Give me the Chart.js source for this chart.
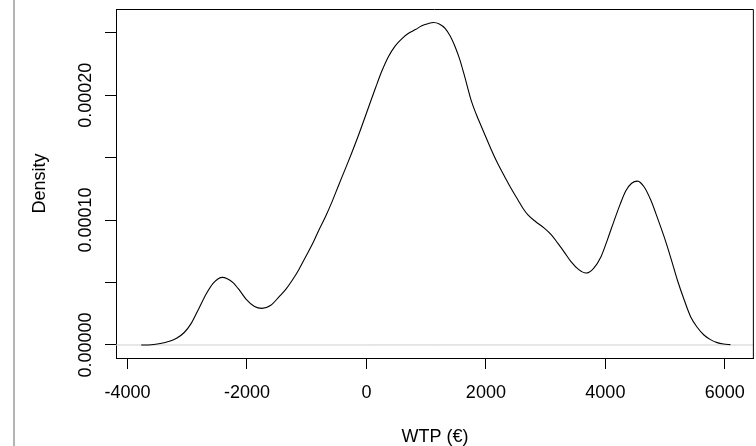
<!DOCTYPE html>
<html><head><meta charset="utf-8">
<script src="https://cdn.jsdelivr.net/npm/chart.js@4.4.1/dist/chart.umd.min.js"></script>
<style>
html,body{margin:0;padding:0;background:#fff;overflow:hidden;}
#wrap{position:relative;width:756px;height:446px;overflow:hidden;background:#fff;}
#cv{position:absolute;left:0;top:0;}
#edge{position:absolute;left:13px;top:0;width:2px;height:446px;background:#b4b4b4;}
</style></head><body>
<div id="wrap"><canvas id="cv" width="760" height="446" style="width:760px;height:446px"></canvas><div id="edge"></div></div>
<script>
// WTP (€) grid and estimated kernel density values
const wtp = [-3770,-3600,-3450,-3300,-3178,-3050,-2930,-2800,-2680,-2567,-2480,-2412,-2330,-2233,-2120,-2012,-1880,-1750,-1600,-1461,-1350,-1239,-1130,-1016,-900,-795,-680,-573,-460,-350,-240,-128,-30,67,150,260,370,483,600,705,820,927,1030,1122,1220,1317,1400,1483,1566,1650,1759,1840,1926,2092,2200,2315,2425,2537,2620,2704,2840,2982,3100,3203,3315,3425,3550,3675,3800,3927,4040,4150,4250,4343,4440,4538,4650,4760,4870,4983,5100,5205,5320,5427,5540,5650,5760,5872,5980,6093];
const density = [0,0.0000002,0.0000012,0.0000030,0.0000054,0.0000100,0.0000175,0.0000297,0.0000410,0.0000493,0.0000530,0.0000541,0.0000530,0.0000499,0.0000435,0.0000365,0.0000310,0.0000293,0.0000318,0.0000387,0.0000445,0.0000520,0.0000605,0.0000707,0.0000812,0.0000921,0.0001033,0.0001150,0.0001285,0.0001414,0.0001545,0.0001685,0.0001815,0.0001945,0.0002055,0.0002195,0.0002310,0.0002395,0.0002455,0.0002495,0.0002525,0.0002555,0.0002572,0.0002582,0.0002570,0.0002535,0.0002475,0.0002390,0.0002281,0.0002140,0.0001950,0.0001845,0.0001747,0.0001561,0.0001450,0.0001347,0.0001250,0.0001161,0.0001095,0.0001041,0.0000985,0.0000934,0.0000880,0.0000815,0.0000742,0.0000667,0.0000605,0.0000576,0.0000612,0.0000707,0.0000850,0.0001000,0.0001130,0.0001235,0.0001295,0.0001312,0.0001265,0.0001160,0.0001020,0.0000867,0.0000690,0.0000520,0.0000360,0.0000227,0.0000140,0.0000080,0.0000043,0.0000019,0.0000008,0.0000003];
const xTicks = [-4000,-2000,0,2000,4000,6000];
const yTicks = [0,0.00005,0.0001,0.00015,0.0002,0.00025];
const yTickLabels = ['0.00000','','0.00010','','0.00020',''];
const xTitle = 'WTP (€)';
const yTitle = 'Density';

const X_MIN = -4192, X_MAX = 6486;
const Y_MIN = -0.00001041, Y_MAX = 0.00026897;
const FONT = {family:"'Liberation Sans', Arial, sans-serif", size:18, lineHeight:1};

const boxPlugin = {
  id:'box',
  afterDraw(chart){
    const {ctx, chartArea:a} = chart;
    ctx.save();
    ctx.strokeStyle = '#000';
    ctx.lineWidth = 1;
    ctx.beginPath();
    ctx.moveTo(a.left, a.top + 0.5);
    ctx.lineTo(a.right - 0.5, a.top + 0.5);
    ctx.lineTo(a.right - 0.5, a.bottom);
    ctx.stroke();
    ctx.restore();
  }
};

new Chart(document.getElementById('cv'), {
  type:'line',
  data:{datasets:[
    {data: wtp.map((x,i)=>({x, y: density[i]})), borderColor:'#000', borderWidth:1.1, pointRadius:0, cubicInterpolationMode:'monotone', fill:false},
    {data: [{x:X_MIN,y:0},{x:X_MAX,y:0}], borderColor:'#cfcfcf', borderWidth:1, pointRadius:0, fill:false}
  ]},
  options:{
    responsive:false, animation:false, devicePixelRatio:1,
    layout:{padding:{left:0, top:9, right:3, bottom:0}},
    plugins:{legend:{display:false}, tooltip:{enabled:false}},
    scales:{
      x:{
        type:'linear', min:X_MIN, max:X_MAX,
        afterBuildTicks: s => { s.ticks = xTicks.map(v=>({value:v})); },
        afterFit: s => { s.height = 88; },
        grid:{drawOnChartArea:false, drawTicks:true, tickLength:11, color:'#000', lineWidth:1},
        border:{display:true, color:'#000', width:1},
        ticks:{padding:15, font:FONT, color:'#000', minRotation:0, maxRotation:0, autoSkip:false, callback:(v)=>String(v)},
        title:{display:true, text:xTitle, font:FONT, color:'#000', padding:{top:0, bottom:0}}
      },
      y:{
        type:'linear', min:Y_MIN, max:Y_MAX,
        afterBuildTicks: s => { s.ticks = yTicks.map(v=>({value:v})); },
        afterFit: s => { s.width = 116; },
        grid:{drawOnChartArea:false, drawTicks:true, tickLength:11, color:'#000', lineWidth:1},
        border:{display:true, color:'#000', width:1},
        ticks:{padding:-14, font:FONT, color:'#000', minRotation:90, maxRotation:90, crossAlign:'center', autoSkip:false, callback:(v,i)=>yTickLabels[i]},
        title:{display:true, text:yTitle, font:FONT, color:'#000', padding:{top:31, bottom:0}}
      }
    }
  },
  plugins:[boxPlugin]
});
</script>
</body></html>
